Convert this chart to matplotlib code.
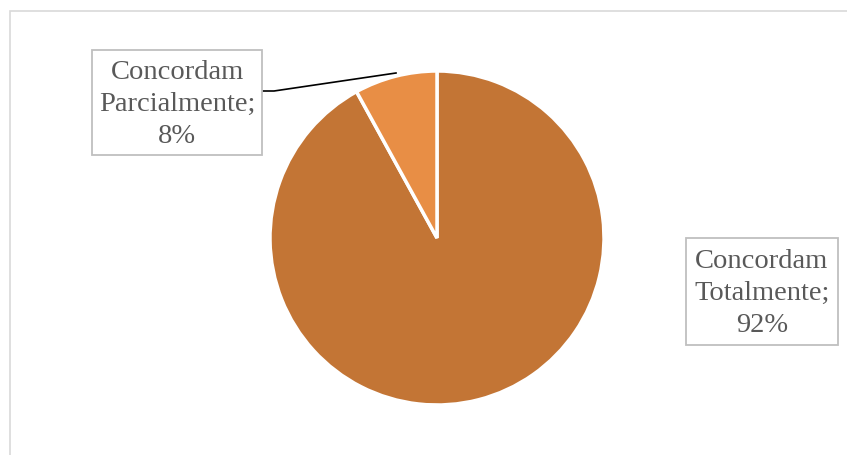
import matplotlib.pyplot as plt
from matplotlib.patches import Rectangle

# data
categories = ["Concordam Totalmente", "Concordam Parcialmente"]
values = [92, 8]
colors = ["#C37535", "#E88E45"]

W, H = 847, 455
fig = plt.figure(figsize=(W / 100, H / 100), dpi=100)
ax = fig.add_axes([0, 0, 1, 1])

# outer chart border
ax.add_patch(Rectangle((10, -5), W, H - 11 + 5, fill=False, edgecolor="#D9D9D9", linewidth=1.2))

# pie, clockwise from 12 o'clock like excel
ax.pie(values, colors=colors, startangle=90, counterclock=False,
       center=(437, H - 238), radius=167,
       wedgeprops=dict(edgecolor="white", linewidth=2.5), frame=True)
ax.set_xlim(0, W)
ax.set_ylim(0, H)
ax.set_aspect("equal")
ax.axis("off")

# label boxes (pixel positions: left, top, right, bottom)
boxes = [(686, 238, 838, 345), (92, 50, 262, 155)]
for cat, val, (x0, y0, x1, y1) in zip(categories, values, boxes):
    first, second = cat.split(" ", 1)
    ax.add_patch(Rectangle((x0, H - y1), x1 - x0, y1 - y0, fill=True, facecolor="white",
                           edgecolor="#BFBFBF", linewidth=1.3, zorder=3))
    ax.text((x0 + x1) / 2, H - (y0 + y1) / 2 - 2, f"{first}\n{second};\n{val}%",
            ha="center", va="center", fontsize=20.5, color="#595959",
            family="Liberation Serif", linespacing=1.36, zorder=4)

# leader line for the small slice
ax.plot([263, 274, 396], [H - 91, H - 91, H - 73], color="black", linewidth=1.2, zorder=2)

fig.savefig("out.png", dpi=100)
